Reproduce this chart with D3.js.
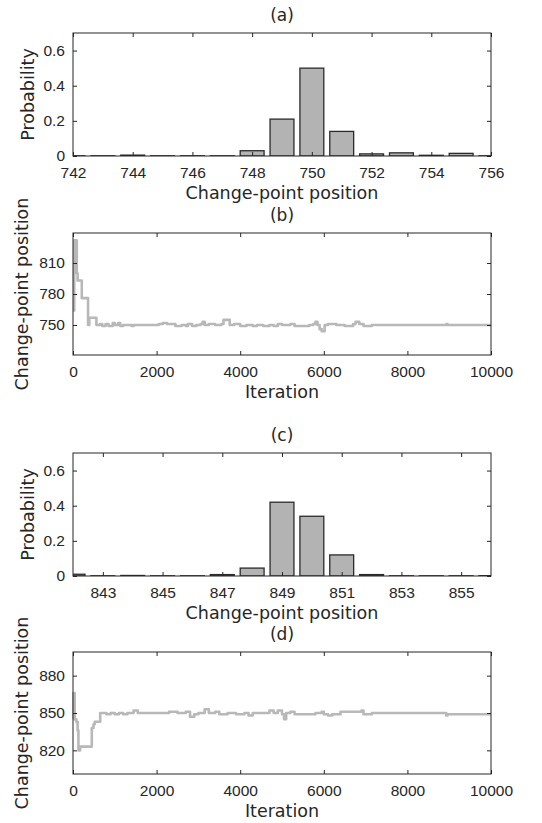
<!DOCTYPE html>
<html>
<head>
<meta charset="utf-8">
<script src="https://cdn.jsdelivr.net/npm/d3@7"></script>
<style>
  body { margin: 0; background: #fff; }
  svg { display: block; font-family: "DejaVu Sans", sans-serif; }
  .tick text { fill: #262626; font-size: 15.5px; }
  .tick line { stroke: #262626; }
</style>
</head>
<body>
<svg id="fig" width="542" height="823"></svg>
<script>
// Panel (a): posterior of change-point position
const posA = [742, 743, 744, 745, 746, 747, 748, 749, 750, 751, 752, 753, 754, 755, 756];
const probA = [0.001, 0.001, 0.005, 0.001, 0.001, 0.001, 0.03, 0.21, 0.50, 0.14, 0.012, 0.018, 0.004, 0.015, 0.001];
const xTicksA = [742, 744, 746, 748, 750, 752, 754, 756];

// Panel (c)
const posC = [842, 843, 844, 845, 846, 847, 848, 849, 850, 851, 852, 853, 854, 855, 856];
const probC = [0.01, 0.001, 0.003, 0.001, 0.001, 0.008, 0.045, 0.42, 0.34, 0.12, 0.008, 0.001, 0.001, 0.001, 0.002];
const xTicksC = [843, 845, 847, 849, 851, 853, 855];

const probTicks = [0, 0.2, 0.4, 0.6];

// Panel (b): MCMC trace
const iterB = [0, 30, 90, 110, 210, 360, 390, 560, 650, 700, 780, 850, 950, 1000, 1080, 1130, 1200, 1400, 1450,
  2050, 2150, 2250, 2450, 2600, 2700, 2750, 2850, 2950, 3050, 3100, 3150, 3250, 3400, 3550, 3600, 3750, 3850,
  4000, 4150, 4300, 4400, 4550, 4700, 4800, 4900, 5000, 5200, 5300, 5650, 5750, 5800, 5850, 5900, 5950, 6020,
  6100, 6300, 6500, 6700, 6760, 6850, 6950, 7150, 8930, 8960, 10000];
const cpB = [764, 832, 800, 793, 776, 750, 757, 750, 751, 749, 751, 749, 752, 750, 752, 749, 750, 749, 750,
  751, 752, 751, 749, 750, 749, 751, 749, 750, 751, 753, 750, 751, 750, 751, 755, 750, 751,
  749, 750, 749, 750, 749, 750, 749, 751, 750, 751, 749, 750, 751, 753, 750, 746, 744, 750,
  751, 750, 749, 751, 753, 751, 749, 750, 751, 750, 750];
const yTicksB = [750, 780, 810];

// Panel (d)
const iterD = [0, 10, 40, 80, 110, 130, 170, 420, 450, 490, 520, 650, 800, 900, 1000, 1100, 1200, 1300, 1450, 1550,
  2300, 2500, 2700, 2800, 2900, 3000, 3150, 3250, 3400, 3500, 3700, 3900, 4100, 4200, 4300, 4700, 4800, 4900,
  5000, 5050, 5100, 5200, 5300, 5800, 5950, 6000, 6100, 6200, 6400, 6900, 6950, 7150, 8930, 8960, 10000];
const cpD = [845, 866, 845, 843, 836, 820, 823, 823, 838, 841, 843, 850, 849, 850, 849, 850, 849, 850, 852, 850,
  851, 850, 851, 847, 849, 850, 853, 850, 851, 849, 850, 849, 850, 848, 850, 852, 850, 852,
  849, 845, 850, 851, 849, 850, 851, 849, 848, 849, 851, 852, 849, 850, 848, 849, 849];
const yTicksD = [820, 850, 880];

const iterTicks = [0, 2000, 4000, 6000, 8000, 10000];

const svg = d3.select('#fig');
const left = 73, right = 491;
const ink = '#262626';

function frame(g, x, y, h, xTicks, yTicks, title, xLabel, yLabel, yLabelX) {
    g.append('g')
        .attr('transform', `translate(0,${h})`)
        .call(d3.axisBottom(x).tickValues(xTicks).tickSize(-4).tickPadding(11).tickFormat(d => String(d)))
        .call(a => a.select('.domain').remove());
    g.append('g')
        .call(d3.axisTop(x).tickValues(xTicks).tickSize(-4).tickFormat(''))
        .call(a => a.select('.domain').remove());
    g.append('g')
        .call(d3.axisLeft(y).tickValues(yTicks).tickSize(-4).tickPadding(8).tickFormat(d => String(d)))
        .call(a => a.select('.domain').remove());
    g.append('g')
        .attr('transform', `translate(${right - left},0)`)
        .call(d3.axisRight(y).tickValues(yTicks).tickSize(-4).tickFormat(''))
        .call(a => a.select('.domain').remove());

    g.append('rect')
        .attr('width', right - left)
        .attr('height', h)
        .attr('fill', 'none')
        .attr('stroke', ink)
        .attr('stroke-width', 1);

    g.append('text')
        .attr('x', (right - left) / 2)
        .attr('y', -12)
        .attr('text-anchor', 'middle')
        .attr('fill', ink)
        .style('font-size', '17px')
        .text(title);

    g.append('text')
        .attr('x', (right - left) / 2)
        .attr('y', h + 43)
        .attr('text-anchor', 'middle')
        .attr('fill', ink)
        .style('font-size', '17.5px')
        .text(xLabel);

    g.append('text')
        .attr('transform', `translate(${yLabelX},${h / 2}) rotate(-90)`)
        .attr('text-anchor', 'middle')
        .attr('fill', ink)
        .style('font-size', '17.5px')
        .text(yLabel);
}

function barPanel(top, bottom, pos, prob, xTicks, title, id) {
    const h = bottom - top;
    const g = svg.append('g').attr('transform', `translate(${left},${top})`);
    const x = d3.scaleLinear().domain([pos[0], pos[pos.length - 1]]).range([0, right - left]);
    const y = d3.scaleLinear().domain([0, 0.7]).range([h, 0]);
    const bw = x(pos[0] + 0.8) - x(pos[0]);

    g.append('clipPath').attr('id', id)
        .append('rect').attr('width', right - left).attr('height', h);

    g.append('g')
        .attr('clip-path', `url(#${id})`)
        .selectAll('rect')
        .data(pos)
        .join('rect')
        .attr('x', (d) => x(d) - bw / 2)
        .attr('y', (d, i) => y(prob[i]))
        .attr('width', bw)
        .attr('height', (d, i) => h - y(prob[i]))
        .attr('fill', '#b3b3b3')
        .attr('stroke', '#2b2b2b')
        .attr('stroke-width', 1.3);

    frame(g, x, y, h, xTicks, probTicks, title,
        'Change-point position', 'Probability', -39);
}

function tracePanel(top, bottom, iters, vals, yDomain, yTicks, title) {
    const h = bottom - top;
    const g = svg.append('g').attr('transform', `translate(${left},${top})`);
    const x = d3.scaleLinear().domain([0, 10000]).range([0, right - left]);
    const y = d3.scaleLinear().domain(yDomain).range([h, 0]);

    const line = d3.line()
        .x((d, i) => x(iters[i]))
        .y(d => y(d))
        .curve(d3.curveStepAfter);

    g.append('path')
        .datum(vals)
        .attr('d', line)
        .attr('fill', 'none')
        .attr('stroke', '#b8b8b8')
        .attr('stroke-width', 2.6)
        .attr('stroke-linejoin', 'round');

    frame(g, x, y, h, iterTicks, yTicks, title,
        'Iteration', 'Change-point position', -45);
}

barPanel(33, 156, posA, probA, xTicksA, '(a)', 'clipA');
tracePanel(233, 355, iterB, cpB, [721, 839], yTicksB, '(b)');
barPanel(453, 576, posC, probC, xTicksC, '(c)', 'clipC');
tracePanel(652, 774, iterD, cpD, [801, 899], yTicksD, '(d)');
</script>
</body>
</html>
